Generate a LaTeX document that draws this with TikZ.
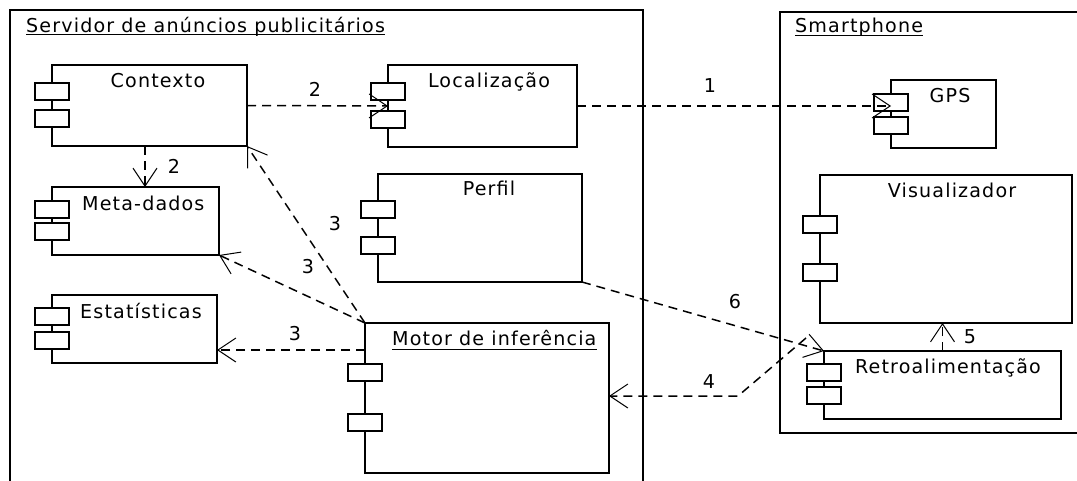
\documentclass[tikz,border=0pt]{standalone}
\usepackage{fontspec}
\setmainfont{DejaVu Sans}[LetterSpace=6]
\usetikzlibrary{arrows.meta}

% component: name, x, y (top left), width, height, offsets of the two ports
\newcommand\comp[7]{%
  \node[box, minimum width=#4pt, minimum height=#5pt, anchor=north west] (#1) at (#2,#3) {};
  \node[port, anchor=north] (#1-p1) at (#2,#3+#6) {};
  \node[port, anchor=north] (#1-p2) at (#2,#3+#7) {};
}

\begin{document}
\begin{tikzpicture}[x=1pt,y=-1pt,
  frame/.style={draw, line width=1.8pt, inner sep=0pt, outer sep=0pt, rectangle},
  box/.style={draw, line width=1.6pt, inner sep=0pt, outer sep=0pt, rectangle},
  port/.style={draw, fill=white, line width=1.4pt, minimum width=34pt, minimum height=17pt, inner sep=0pt, outer sep=0pt},
  lbl/.style={inner sep=0pt, anchor=base, font=\fontsize{19.1}{22}\selectfont},
  dep/.style={line width=1.5pt, dash pattern=on 9pt off 6pt,
    -{Straight Barb[length=18pt,width=24pt,line width=1pt]}},
]
\clip (0,0) rectangle (1077,480);
\fill[white] (0,0) rectangle (1077,480);

% containers
\node[frame, minimum width=633pt, minimum height=500pt, anchor=north west] (srv) at (10,10) {};
\node[frame, minimum width=330pt, minimum height=421pt, anchor=north west] (phone) at (780,12) {};
\node[lbl, anchor=base west] (srv-t) at (26,32) {Servidor de anúncios publicitários};
\draw[line width=1pt] ([yshift=-2pt]srv-t.base west) -- ([yshift=-2pt]srv-t.base east);
\node[lbl, anchor=base west] (phone-t) at (795,32) {Smartphone};
\draw[line width=1pt] ([yshift=-3pt]phone-t.base west) -- ([yshift=-3pt]phone-t.base east);

% components
\comp{ctx}{52}{65}{195}{81}{18}{45}
\comp{loc}{388}{65}{189}{82}{18}{46}
\comp{gps}{891}{80}{105}{68}{14}{37}
\comp{meta}{52}{187}{167}{68}{14}{36}
\comp{stat}{52}{295}{165}{68}{13}{37}
\comp{perf}{378}{174}{204}{108}{27}{63}
\comp{motor}{365}{323}{244}{150}{41}{91}
\comp{vis}{820}{175}{252}{148}{41}{89}
\comp{retro}{824}{351}{237}{68}{13}{36}

\node[lbl] (ctx-t) at (158,87) {Contexto};
\node[lbl] (loc-t) at (489,87) {Localização};
\node[lbl] (gps-t) at (950,102) {GPS};
\node[lbl, anchor=base west] (meta-t) at (82,210) {Meta-dados};
\node[lbl, anchor=base west] (stat-t) at (80,318) {Estatísticas};
\node[lbl] (perf-t) at (489,195) {Perfil};
\node[lbl, anchor=base west] (motor-t) at (392,345) {Motor de inferência};
\draw[line width=1pt] ([yshift=-4pt]motor-t.base west) -- ([yshift=-4pt]motor-t.base east);
\node[lbl] (vis-t) at (952,197) {Visualizador};
\node[lbl] (retro-t) at (948,373) {Retroalimentação};

% free points of connectors
\coordinate (m3) at (365,350);
\coordinate (r4) at (806,338);
\coordinate (b4) at (738,396);

% dependencies
\draw[dep] (loc.east) -- (loc.east -| gps.west);
\draw[dep] (ctx.east) -- (loc.west);
\draw[dep] ([xshift=-4.5pt]ctx.south) -- ([xshift=-4.5pt]ctx.south |- meta.north);
\draw[dep] (motor.north west) -- (ctx.south east);
\draw[dep] (motor.north west) -- (meta.south east);
\draw[dep] (m3) -- (m3 -| stat.east);
\draw[dep] (r4) -- (b4) -- (b4 -| motor.east);
\draw[dep] (retro.north) -- (retro.north |- vis.south);
\draw[dep] (perf.south east) -- (retro.north west);

% sequence numbers
\node[lbl] (n1) at (710,92) {1};
\node[lbl] (n2a) at (315,96) {2};
\node[lbl] (n2b) at (174,173) {2};
\node[lbl] (n3a) at (335,230) {3};
\node[lbl] (n3b) at (308,273) {3};
\node[lbl] (n3c) at (295,340) {3};
\node[lbl] (n4) at (709,388) {4};
\node[lbl] (n5) at (970,343) {5};
\node[lbl] (n6) at (735,308) {6};
\end{tikzpicture}
\end{document}
